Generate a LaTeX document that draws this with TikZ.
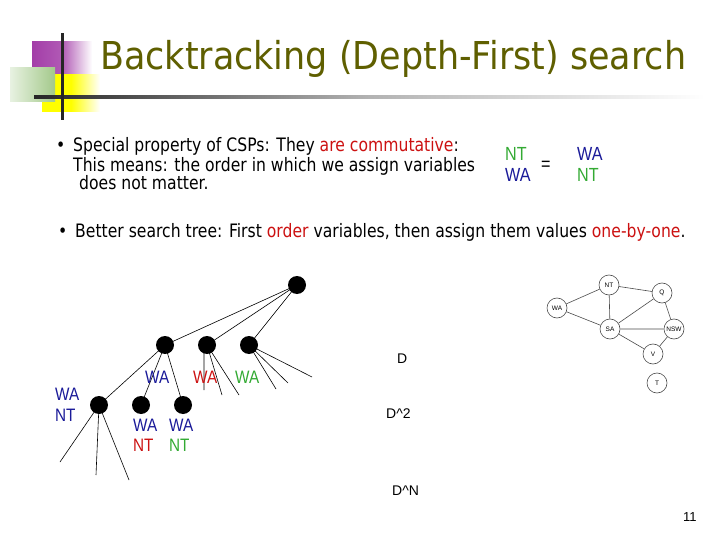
\documentclass[tikz,border=0pt]{standalone}
\usepackage{fontspec}
\newfontfamily\tah{DejaVu Sans}[FakeStretch=0.845]
\newfontfamily\tahT{DejaVu Sans}[FakeStretch=0.91]
\newfontfamily\ari{Liberation Sans}
\newfontfamily\ariN{Liberation Sans}[FakeStretch=0.85]
\definecolor{titleol}{HTML}{5F5F00}
\definecolor{redt}{HTML}{CC1111}
\definecolor{bluet}{HTML}{1A1A99}
\definecolor{greent}{HTML}{33AA33}
\definecolor{logopurple}{HTML}{A33DA8}
\definecolor{logogreen}{HTML}{A3C98A}
\begin{document}
\begin{tikzpicture}[x=1pt,y=-1pt,
  txt/.style={inner sep=0pt,anchor=base west},
  body/.style={txt,font=\tah\fontsize{18.5}{22}\selectfont},
  lab/.style={txt,font=\ariN\fontsize{19}{22}\selectfont},
  tlab/.style={txt,font=\ariN\fontsize{18}{22}\selectfont},
  dlab/.style={txt,font=\ari\fontsize{14}{16}\selectfont},
  dot/.style={circle,fill=black,minimum size=18pt,inner sep=0pt},
  gnode/.style={circle,draw=black!70,line width=0.6pt,minimum size=20pt,inner sep=0pt,font=\ari\fontsize{6.5}{7}\selectfont},
  gedge/.style={draw=black!70,line width=0.6pt},
  tedge/.style={draw=black,line width=0.6pt}]
\useasboundingbox (0,0) rectangle (720,540);
\fill[white] (0,0) rectangle (720,540);
% logo
\shade[left color=logopurple,right color=white,middle color=logopurple!85] (32,42) rectangle (92,75);
\shade[left color=yellow,right color=white,middle color=yellow] (42,75) rectangle (100,112);
\shade[left color=logogreen!25,right color=logogreen] (10,68) rectangle (55,102);
\shade[left color=black!85,right color=white,middle color=black!30] (34,95.5) rectangle (705,98.5);
\fill[black!85] (60.5,33) rectangle (63.5,120);
% title
\node[txt,font=\tahT\fontsize{38.4}{44}\selectfont,text=titleol] (title) at (100,70) {Backtracking (Depth-First) search};
% bullets
\node[body] (b1) at (56,151.5) {\textbullet};
\node[body] (l1) at (73,151.5) {Special property of CSPs: They \textcolor{redt}{are commutative}:};
\node[body] (l2) at (73,171.5) {This means: the order in which we assign variables};
\node[body] (l3) at (79,190) {does not matter.};
\node[body] (b2) at (58,237) {\textbullet};
\node[body] (l4) at (75,237) {Better search tree: First \textcolor{redt}{order} variables, then assign them values \textcolor{redt}{one-by-one}.};
% NT = WA
\node[lab,text=greent] (nt1) at (505,161) {NT};
\node[lab,text=bluet] (wa1) at (505,182) {WA};
\node[lab] (eq) at (541,171) {=};
\node[lab,text=bluet] (wa2) at (577,161) {WA};
\node[lab,text=greent] (nt2) at (577,182) {NT};
% tree
\node[dot] (r) at (297,285) {};
\node[dot] (a) at (165,345) {};
\node[dot] (b) at (207,345) {};
\node[dot] (c) at (249,345) {};
\node[dot] (a1) at (99,405) {};
\node[dot] (a2) at (141,405) {};
\node[dot] (a3) at (183,405) {};
\coordinate (b1e) at (204,390);
\coordinate (b2e) at (222,395);
\coordinate (b3e) at (239,395);
\coordinate (c1e) at (276,389);
\coordinate (c2e) at (288,383);
\coordinate (c3e) at (312,377);
\coordinate (d1e) at (60,462);
\coordinate (d2e) at (96,475);
\coordinate (d3e) at (129,480);
\draw[tedge] (r.center) -- (a.center) (r.center) -- (b.center) (r.center) -- (c.center);
\draw[tedge] (a.center) -- (a1.center) (a.center) -- (a2.center) (a.center) -- (a3.center);
\draw[tedge] (b.center) ++(-3,0) -- (b1e) (b.center) -- (b2e) (b.center) -- (b3e);
\draw[tedge] (c.center) -- (c1e) (c.center) -- (c2e) (c.center) -- (c3e);
\draw[tedge] (a1.center) -- (d1e) (a1.center) -- (d2e) (a1.center) -- (d3e);
\node[tlab,text=bluet] (twa1) at (145,383) {WA};
\node[tlab,text=redt] (twa2) at (193,383) {WA};
\node[tlab,text=greent] (twa3) at (235,383) {WA};
\node[tlab,text=bluet] (lwa) at (55,400) {WA};
\node[tlab,text=bluet] (lnt) at (55,421) {NT};
\node[tlab,text=bluet] (mwa) at (133,431) {WA};
\node[tlab,text=redt] (mnt) at (133,451) {NT};
\node[tlab,text=bluet] (nwa) at (169,431) {WA};
\node[tlab,text=greent] (nnt) at (169,451) {NT};
% D labels
\node[dlab] (d) at (397,363) {D};
\node[dlab] (d2) at (386,418) {D\^{}2};
\node[dlab] (dn) at (392,495) {D\^{}N};
% graph
\node[gnode] (gNT) at (609,285) {NT};
\node[gnode] (gQ) at (662,293) {Q};
\node[gnode] (gWA) at (557,308) {WA};
\node[gnode] (gSA) at (610,329) {SA};
\node[gnode] (gNSW) at (674,329) {NSW};
\node[gnode] (gV) at (653,354) {V};
\node[gnode] (gT) at (657,383) {T};
\draw[gedge] (gWA) -- (gNT) (gWA) -- (gSA) (gNT) -- (gSA) (gNT) -- (gQ) (gSA) -- (gQ) (gSA) -- (gNSW) (gSA) -- (gV) (gQ) -- (gNSW) (gNSW) -- (gV);
% page number
\node[txt,font=\ari\fontsize{13}{15}\selectfont] (pn) at (683,521) {11};
\end{tikzpicture}
\end{document}
